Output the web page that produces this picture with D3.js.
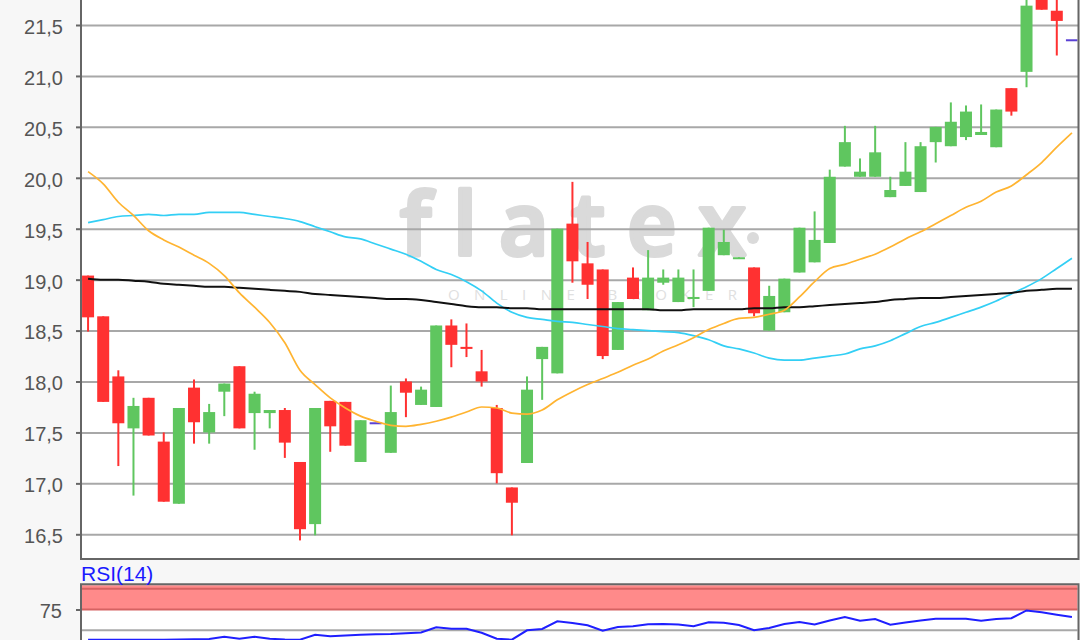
<!DOCTYPE html>
<html><head><meta charset="utf-8">
<script src="https://cdn.jsdelivr.net/npm/d3@7"></script>
<style>html,body{margin:0;padding:0;background:#f7f7f7;} svg{display:block;}</style>
</head><body><svg id="c" width="1080" height="640"></svg>
<script>
// ---- data ----
const open  = [19.04,18.64,18.05,17.54,17.84,17.41,16.80,17.94,17.50,17.90,
               18.15,17.69,17.69,17.72,17.21,16.60,17.81,17.80,17.21,17.59,
               17.30,18.00,17.77,17.75,18.55,18.34,18.10,17.74,16.96,17.20,
               18.22,18.08,19.55,19.16,19.10,18.31,19.02,18.70,18.97,18.78,
               18.81,18.89,19.24,19.21,19.12,18.50,18.68,19.07,19.17,19.36,
               20.11,20.01,20.01,19.81,19.92,19.86,20.35,20.31,20.40,20.42,
               20.30,20.88,21.04,21.85,21.64,21.35];
const high  = [19.04,18.64,18.11,17.84,17.84,17.50,17.74,18.02,17.78,17.98,
               18.15,17.90,17.72,17.74,17.21,17.74,17.81,17.80,17.62,17.59,
               17.96,18.03,17.95,18.55,18.61,18.57,18.31,17.77,16.96,18.05,
               18.34,19.50,19.96,19.37,19.10,18.78,19.12,19.29,19.10,19.10,
               19.10,19.51,19.49,19.22,19.12,18.94,19.01,19.51,19.67,20.08,
               20.51,20.19,20.51,20.01,20.35,20.35,20.50,20.74,20.71,20.72,
               20.67,20.88,21.80,21.92,21.80,21.35];
const low   = [18.49,17.80,17.17,16.88,17.47,16.82,16.80,17.39,17.39,17.66,
               17.54,17.33,17.54,17.25,16.44,16.49,17.31,17.37,17.21,17.59,
               17.30,17.65,17.77,17.75,18.14,18.24,17.95,17.00,16.49,17.20,
               17.82,18.08,18.97,18.81,18.22,18.31,18.81,18.70,18.95,18.78,
               18.73,18.89,19.24,19.21,18.64,18.50,18.68,19.07,19.17,19.36,
               20.11,20.01,20.01,19.81,19.92,19.86,20.15,20.31,20.37,20.42,
               20.30,20.61,20.89,21.65,21.20,21.35];
const close = [18.63,17.80,17.59,17.76,17.47,16.82,17.74,17.60,17.70,17.98,
               17.54,17.88,17.72,17.40,16.55,17.74,17.56,17.37,17.62,17.59,
               17.70,17.89,17.92,18.55,18.36,18.32,18.00,17.10,16.81,17.92,
               18.34,19.50,19.18,18.95,18.25,18.78,18.81,19.02,19.02,19.02,
               18.83,19.51,19.37,19.22,18.67,18.84,19.01,19.51,19.39,20.01,
               20.35,20.06,20.25,19.88,20.06,20.31,20.50,20.55,20.65,20.45,
               20.67,20.65,21.69,21.65,21.54,21.35];
const maOrange = [20.06,19.94,19.76,19.63,19.48,19.39,19.32,19.24,19.16,19.04,
               18.87,18.73,18.58,18.38,18.11,17.97,17.84,17.74,17.66,17.61,
               17.57,17.56,17.58,17.61,17.65,17.70,17.75,17.74,17.69,17.68,
               17.72,17.82,17.90,17.97,18.03,18.09,18.16,18.22,18.30,18.36,
               18.43,18.51,18.57,18.62,18.63,18.66,18.70,18.83,18.98,19.11,
               19.15,19.20,19.25,19.32,19.40,19.47,19.55,19.63,19.71,19.77,
               19.86,19.92,20.03,20.15,20.30,20.44];
const maCyan = [19.56,19.59,19.62,19.63,19.64,19.63,19.64,19.64,19.66,19.66,
               19.66,19.64,19.62,19.60,19.57,19.52,19.47,19.42,19.40,19.35,
               19.30,19.25,19.18,19.10,19.05,18.98,18.89,18.77,18.68,18.63,
               18.61,18.59,18.58,18.56,18.54,18.52,18.51,18.50,18.49,18.48,
               18.45,18.41,18.35,18.32,18.28,18.23,18.21,18.21,18.23,18.25,
               18.27,18.32,18.35,18.40,18.47,18.54,18.58,18.63,18.68,18.73,
               18.79,18.86,18.93,19.01,19.11,19.21];
const maBlack = [19.01,19.00,19.00,18.99,18.98,18.96,18.95,18.94,18.93,18.93,
               18.92,18.91,18.90,18.89,18.88,18.86,18.85,18.84,18.83,18.82,
               18.81,18.81,18.80,18.78,18.76,18.74,18.73,18.73,18.72,18.72,
               18.71,18.71,18.71,18.71,18.71,18.71,18.71,18.71,18.70,18.70,
               18.71,18.71,18.71,18.71,18.72,18.72,18.73,18.73,18.74,18.75,
               18.76,18.77,18.78,18.80,18.81,18.82,18.82,18.83,18.84,18.85,
               18.86,18.87,18.89,18.90,18.91,18.91];
const rsi = [38.7,38.7,38.7,38.7,38.7,38.7,38.9,39.3,39.6,42.3,
             39.9,42.3,39.9,38.9,38.7,44.7,42.8,43.7,44.7,45.2,
             45.5,46.4,47.3,53.6,51.9,51.9,47.1,39.9,38.7,50.0,
             51.6,60.8,58.8,56.0,49.5,54.0,54.8,57.2,57.6,57.0,
             54.8,59.6,59.0,56.4,50.0,52.8,57.6,60.0,57.0,61.8,
             66.0,61.6,63.6,56.7,59.4,61.8,64.0,64.0,64.0,61.6,
             63.6,64.5,73.9,71.7,68.8,66.0];
const priceTicks = [16.5,17,17.5,18,18.5,19,19.5,20,20.5,21,21.5];
const rsiTicks = [75];
const rsiZone = [75, 100];
const rsiMid = 50;
const rsiLabel = "RSI(14)";

// ---- layout ----
const L = 81, R = 1078.5;
const mainTop = -40, mainBottom = 559;
const rsiTop = 584.3, rsiBottom = 700;
const svg = d3.select("#c");
const idx = open.map((_, i) => i);

const x = d3.scalePoint().domain(idx).range([80.5, 1079.5]).padding(0.5);
const y = d3.scaleLinear().domain([16.5, 21.5]).range([534.3, 25]);
const yr = d3.scaleLinear().domain([50, 75]).range([630.3, 609.5]);

const defs = svg.append("defs");
defs.append("clipPath").attr("id", "clipMain").append("rect")
  .attr("x", L + 1).attr("y", mainTop).attr("width", R - L - 2).attr("height", mainBottom - 1 - mainTop);
defs.append("clipPath").attr("id", "clipRsi").append("rect")
  .attr("x", L + 1).attr("y", rsiTop + 1).attr("width", R - L - 2).attr("height", rsiBottom - rsiTop);

const FONT = "'Liberation Sans', Arial, sans-serif";

// ---- main panel ----
svg.append("rect").attr("x", L).attr("y", mainTop).attr("width", R - L).attr("height", mainBottom - mainTop)
  .attr("fill", "#fff");

// watermark
const wm = svg.append("g").attr("clip-path", "url(#clipMain)");
wm.append("text").attr("x", 400).attr("y", 255).text("flatex")
  .attr("font-family", "'Open Sans', sans-serif").attr("font-weight", 600).attr("font-size", 86)
  .attr("letter-spacing", 22).style("font-variant-ligatures", "none").style("font-feature-settings", "'liga' 0")
  .attr("fill", "#dadada").attr("stroke", "#dadada").attr("stroke-width", 4).attr("stroke-linejoin", "round");
wm.append("circle").attr("cx", 753).attr("cy", 238).attr("r", 6).attr("fill", "#dadada");
wm.append("text").attr("x", 448).attr("y", 300).text("ONLINE BROKER")
  .attr("font-family", "'Open Sans', sans-serif").attr("font-size", 15)
  .attr("textLength", 289).attr("lengthAdjust", "spacing").attr("fill", "#e0e0e0");

// grid
svg.append("g").attr("transform", `translate(${L},0)`)
  .call(d3.axisLeft(y).tickValues(priceTicks).tickSize(-(R - L)).tickFormat(""))
  .call(g => g.select(".domain").remove())
  .call(g => g.selectAll("line").attr("stroke", "#a8a8a8").attr("stroke-width", 2));

// candles
const up = "#5fc65f", dn = "#ff3131", flat = "#5a40d4";
const cg = svg.append("g").attr("clip-path", "url(#clipMain)");
const colorOf = i => close[i] > open[i] ? up : (close[i] < open[i] ? dn : flat);
cg.selectAll("line.wick").data(idx.filter(i => high[i] > low[i])).join("line")
  .attr("x1", i => x(i)).attr("x2", i => x(i))
  .attr("y1", i => y(high[i])).attr("y2", i => y(low[i]))
  .attr("stroke", colorOf).attr("stroke-width", 2);
cg.selectAll("rect.body").data(idx).join("rect")
  .attr("x", i => x(i) - 6).attr("width", 12)
  .attr("y", i => open[i] === close[i] ? y(open[i]) - 1 : y(Math.max(open[i], close[i])))
  .attr("height", i => open[i] === close[i] ? 2 : Math.max(2, Math.abs(y(open[i]) - y(close[i]))))
  .attr("fill", colorOf);

// moving averages
const lineGen = arr => d3.line().x((d, i) => x(i)).y(d => y(d)).curve(d3.curveMonotoneX)(arr);
const lg = svg.append("g").attr("clip-path", "url(#clipMain)").attr("fill", "none");
lg.append("path").attr("d", lineGen(maCyan)).attr("stroke", "#33cff5").attr("stroke-width", 1.7);
lg.append("path").attr("d", lineGen(maBlack)).attr("stroke", "#111").attr("stroke-width", 2);
lg.append("path").attr("d", lineGen(maOrange)).attr("stroke", "#ffb431").attr("stroke-width", 1.7);

// axis + frame
const ax = svg.append("g").attr("transform", `translate(${L},0)`)
  .call(d3.axisLeft(y).tickValues(priceTicks).tickSize(5).tickPadding(13)
    .tickFormat(d => d3.format(".1f")(d).replace(".", ",")));
ax.select(".domain").remove();
ax.selectAll("line").attr("stroke", "#666").attr("stroke-width", 2);
ax.selectAll("text").attr("font-family", FONT).attr("font-size", 20).attr("fill", "#555").attr("dy", "0.42em");
svg.append("path").attr("d", `M${L},${mainTop} V${mainBottom} H${R} V${mainTop}`)
  .attr("fill", "none").attr("stroke", "#666").attr("stroke-width", 2);

// ---- RSI panel ----
svg.append("rect").attr("x", L).attr("y", rsiTop).attr("width", R - L).attr("height", rsiBottom - rsiTop).attr("fill", "#fff");
const rg = svg.append("g").attr("clip-path", "url(#clipRsi)");
rg.append("rect").attr("x", L).attr("width", R - L)
  .attr("y", rsiTop).attr("height", yr(rsiZone[0]) - rsiTop).attr("fill", "#ff8a8a");
rg.selectAll("line.zone").data(rsiZone).join("line")
  .attr("x1", L).attr("x2", R).attr("y1", d => yr(d)).attr("y2", d => yr(d))
  .attr("stroke", "#d66262").attr("stroke-width", 2);
rg.append("line").attr("x1", L).attr("x2", R).attr("y1", yr(rsiMid)).attr("y2", yr(rsiMid))
  .attr("stroke", "#a8a8a8").attr("stroke-width", 2);
rg.append("path").attr("fill", "none").attr("stroke", "#1f1fff").attr("stroke-width", 2)
  .attr("d", d3.line().x((d, i) => x(i)).y(d => yr(d))(rsi));

const rax = svg.append("g").attr("transform", `translate(${L},0)`)
  .call(d3.axisLeft(yr).tickValues(rsiTicks).tickSize(5).tickPadding(14));
rax.select(".domain").remove();
rax.selectAll("line").attr("stroke", "#666").attr("stroke-width", 2);
rax.selectAll("text").attr("font-family", FONT).attr("font-size", 20).attr("fill", "#555").attr("dy", "0.42em");
svg.append("path").attr("d", `M${L},${rsiBottom} V${rsiTop} H${R} V${rsiBottom}`)
  .attr("fill", "none").attr("stroke", "#666").attr("stroke-width", 2);

svg.append("text").attr("x", 81).attr("y", 581).text(rsiLabel)
  .attr("font-family", FONT).attr("font-size", 21).attr("fill", "#1a1aff");
</script></body></html>
